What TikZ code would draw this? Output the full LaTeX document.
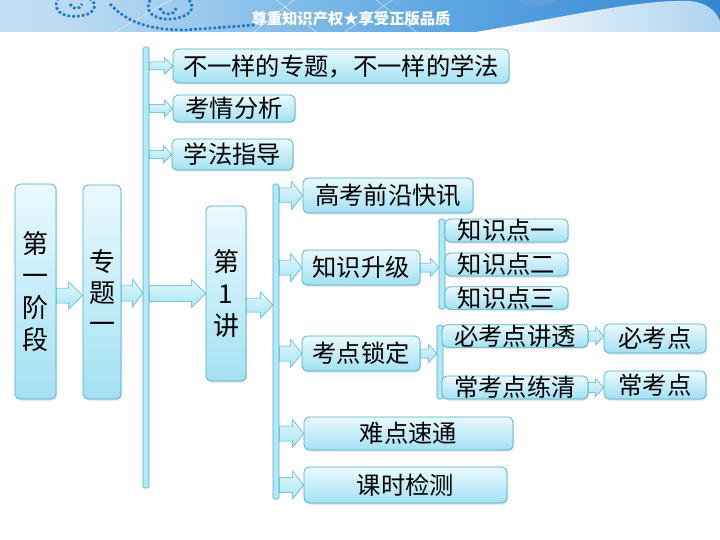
\documentclass[tikz,border=0pt]{standalone}
\usepackage{fontspec}
\newfontfamily\cjk{Noto Sans CJK SC}
\usetikzlibrary{calc, shadows}

\definecolor{boxline}{HTML}{4AAFC9}
\definecolor{boxtop}{HTML}{EAF9FD}
\definecolor{boxbot}{HTML}{A2E1F3}
\definecolor{arrtop}{HTML}{E2F7FC}
\definecolor{arrbot}{HTML}{A8E5F5}
\definecolor{barfill}{HTML}{B2E9F7}
\definecolor{bannerL}{HTML}{E2F0F9}
\definecolor{bannerM}{HTML}{5FA8E2}
\definecolor{bannerR}{HTML}{2C7DCF}
\definecolor{dotblue}{HTML}{1B76C9}

\pgfdeclarehorizontalshading{banner}{100bp}{color(0bp)=(bannerL); color(30bp)=(bannerL!70!bannerM);
  color(55bp)=(bannerM); color(80bp)=(bannerR); color(100bp)=(bannerR)}

% fat arrow: from #1 to #2 (horizontal), shaft half #3, head half #4, head length #5
\newcommand{\fatarrow}[5]{%
  \draw[fatarr] let \p1=#1, \p2=#2 in
    (\x1,\y2+#3pt) -- (\x2-#5pt,\y2+#3pt) -- (\x2-#5pt,\y2+#4pt) -- (\x2,\y2)
    -- (\x2-#5pt,\y2-#4pt) -- (\x2-#5pt,\y2-#3pt) -- (\x1,\y2-#3pt) -- cycle;}

\begin{document}
\begin{tikzpicture}[x=1pt, y=-1pt, font=\cjk,
  box/.style={draw=boxline, line width=0.7pt, rounded corners=5pt,
    top color=boxtop, bottom color=boxbot, inner sep=0pt,
    font=\cjk\fontsize{24.3}{26}\selectfont,
    drop shadow={shadow xshift=1pt, shadow yshift=-1.5pt, opacity=0.25}},
  tallbox/.style={box, align=center, font=\cjk\fontsize{26}{32}\selectfont},
  bar/.style={draw=boxline, line width=0.6pt, fill=barfill, rounded corners=1.5pt,
    inner sep=0pt, minimum width=6},
  fatarr/.style={draw=boxline, line width=0.5pt, top color=arrtop, bottom color=arrbot},
  dots/.style={dotblue, line width=2.6pt, dash pattern=on 2.6pt off 2.2pt}]

  \useasboundingbox (0,0) rectangle (720,540);

  % banner
  \begin{scope}
    \clip (0,0) rectangle (720,32);
    \shade[shading=banner] (0,0) rectangle (720,32);
    \draw[white, opacity=0.6, line width=0.6pt] (100,40) -- (180,-5) (250,35) -- (300,-5)
      (270,-5) -- (320,35) (340,35) -- (400,-5) (370,-5) -- (420,35);
    \fill[dotblue!70!white] (538,0) ellipse (18 and 6);
    \shade[left color=white, right color=bannerL!60!bannerM]
      (470,33) .. controls (560,18) and (640,-1) .. (690,1)
      .. controls (710,3) and (718,14) .. (721,24) -- (721,33) -- cycle;
    \draw[dots] (58,-2) .. controls (50,14) and (70,20) .. (88,14) .. controls (98,9) and (96,0) .. (86,-3);
    \draw[dots] (70,4) .. controls (72,10) and (80,10) .. (82,4);
    \draw[dots] (110,4) .. controls (125,20) and (145,30) .. (185,30) -- (255,25);
    \draw[dots] (150,0) .. controls (140,20) and (175,25) .. (190,12) .. controls (195,5) and (190,-2) .. (183,-3);
    \draw[dots] (160,8) .. controls (162,16) and (175,16) .. (176,8);
  \end{scope}
  \node[text=white, font=\cjk\bfseries\fontsize{15.3}{15}\selectfont] (slogan) at (351,19)
    {尊重知识产权★享受正版品质};

  % left column
  \node[tallbox, minimum width=41, minimum height=215] (stage) at (35.5,291.5) {第\\一\\阶\\段};
  \node[tallbox, minimum width=38, minimum height=214, font=\cjk\fontsize{26}{31}\selectfont]
    (topic) at (102,292) {专\\题\\一};
  \node[bar, minimum height=441] (barA) at (146,267.5) {};

  % first level
  \node[box, minimum width=336, minimum height=34] (intro) at (341,66) {不一样的专题，不一样的学法};
  \node[box, minimum width=122, minimum height=27] (analysis) at (234,108.5) {考情分析};
  \node[box, minimum width=121, minimum height=31] (guide) at (232.5,154.5) {学法指导};
  \node[tallbox, minimum width=40, minimum height=175] (lecture) at (226,293.5) {第\\1\\讲};
  \node[bar, minimum height=315] (barB) at (276,341.5) {};

  % second level
  \node[box, minimum width=170, minimum height=35] (news) at (388,195.5) {高考前沿快讯};
  \node[box, minimum width=118, minimum height=35] (upgrade) at (361,267.5) {知识升级};
  \node[box, minimum width=118, minimum height=35] (lock) at (361,353.5) {考点锁定};
  \node[box, minimum width=209, minimum height=33] (hard) at (408.5,433.5) {难点速通};
  \node[box, minimum width=203, minimum height=36] (test) at (405.5,485) {课时检测};

  % knowledge points
  \node[bar, minimum height=90] (barC) at (442,264) {};
  \node[box, minimum width=123, minimum height=23] (kpA) at (506.5,230.5) {知识点一};
  \node[box, minimum width=123, minimum height=23] (kpB) at (506.5,264.5) {知识点二};
  \node[box, minimum width=123, minimum height=22] (kpC) at (506.5,298) {知识点三};

  % exam points
  \node[bar, minimum height=74] (barD) at (440,362) {};
  \node[box, minimum width=146, minimum height=22] (mustA) at (515,336) {必考点讲透};
  \node[box, minimum width=146, minimum height=23] (oftenA) at (515,387.5) {常考点练清};
  \node[box, minimum width=102, minimum height=29] (mustB) at (655,338.5) {必考点};
  \node[box, minimum width=102, minimum height=28] (oftenB) at (655,385) {常考点};

  % arrows
  \fatarrow{(stage.east)}{([yshift=-3.5pt]topic.west)}{7.5}{13.5}{14}
  \fatarrow{(topic.east)}{([yshift=-1pt]barA.west |- topic.east)}{8}{14}{10}
  \fatarrow{(barA.east)}{(lecture.west)}{8}{14}{14}
  \fatarrow{(lecture.east)}{([yshift=-11.5pt]barB.west |- lecture.east)}{7}{13}{12}
  \foreach \tgt in {intro, analysis, guide}
    {\fatarrow{(barA.east)}{(\tgt.west)}{4}{8.5}{8}}
  \foreach \tgt in {news, upgrade, lock, hard, test}
    {\fatarrow{(barB.east)}{(\tgt.west)}{7.5}{14}{11}}
  \fatarrow{(upgrade.east)}{(barC.west |- upgrade.east)}{4.5}{9}{8}
  \fatarrow{(lock.east)}{(barD.west |- lock.east)}{4.5}{9}{8}
  \fatarrow{(mustA.east)}{(mustB.west |- mustA.east)}{5}{9}{8}
  \fatarrow{(oftenA.east)}{(oftenB.west |- oftenA.east)}{5}{9}{8}

\end{tikzpicture}
\end{document}
